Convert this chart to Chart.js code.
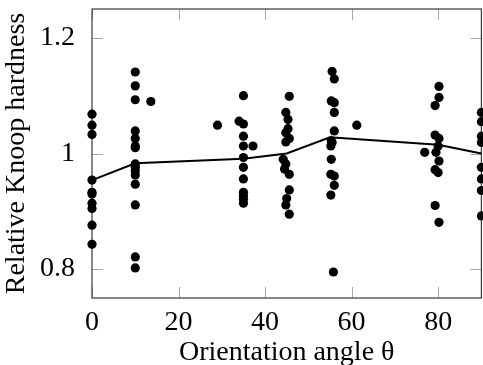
<!DOCTYPE html>
<html>
<head>
<meta charset="utf-8">
<script src="https://cdn.jsdelivr.net/npm/chart.js@4.4.1/dist/chart.umd.min.js"></script>
<style>
    html, body { margin: 0; padding: 0; background: #ffffff; overflow: hidden; }
    #knoopChart { display: block; }
</style>
</head>
<body>
<canvas id="knoopChart" width="486" height="365"></canvas>
<script>
// --- Data ---
// Individual measurements (angle in degrees, relative hardness)
const sampleAngle = [
    0, 0, 0, 0, 0, 0, 0, 0, 0, 0,
    10, 10, 10, 10, 10, 10, 10, 10, 10, 10, 10, 10, 10, 10, 10, 13.6,
    29,
    35, 34, 35, 35, 35, 35, 35, 35, 35, 35, 35, 35, 37.2,
    45.6, 44.8, 45.3, 45.3, 44.8, 45.6, 44.8, 44.2, 44.8, 44.5, 45.6, 45.6, 45, 44.8, 45.6,
    55.5, 56, 55.3, 56, 56, 56, 55.3, 55.5, 55.2, 55.3, 55.2, 56, 56, 55.2, 55.8,
    61.2,
    76.9,
    80.2, 80.2, 79.3, 79.3, 80.2, 80, 79.5, 80.2, 79.3, 80, 79.3, 80.2,
    90, 90, 90, 90, 90, 90, 90, 90
];
const sampleHardness = [
    1.068, 1.049, 1.033, 0.954, 0.933, 0.930, 0.914, 0.905, 0.876, 0.843,
    1.141, 1.117, 1.093, 1.039, 1.026, 1.013, 1.010, 0.982, 0.976, 0.970, 0.963, 0.947, 0.911, 0.821, 0.802, 1.090,
    1.049,
    1.100, 1.056, 1.051, 1.030, 1.013, 0.993, 0.976, 0.956, 0.933, 0.927, 0.921, 0.914, 1.013,
    1.099, 1.071, 1.059, 1.043, 1.036, 1.026, 1.020, 0.990, 0.982, 0.973, 0.964, 0.937, 0.922, 0.911, 0.895,
    1.142, 1.129, 1.091, 1.088, 1.071, 1.039, 1.022, 1.019, 1.013, 0.990, 0.964, 0.961, 0.945, 0.928, 0.795,
    1.049,
    1.002,
    1.116, 1.097, 1.083, 1.032, 1.026, 1.013, 1.002, 0.987, 0.972, 0.967, 0.910, 0.881,
    1.071, 1.055, 1.030, 1.019, 0.976, 0.956, 0.936, 0.892
];

// Mean curve
const meanAngle = [0, 10, 35, 45, 55, 80, 90];
const meanHardness = [0.954, 0.983, 0.991, 1.0, 1.028, 1.015, 1.0];

// Axis ticks
const xTicks = [0, 20, 40, 60, 80];
const yTicks = [0.8, 1, 1.2];

const FONT = "'Liberation Serif', 'Times New Roman', serif";

// --- Plugin: pgfplots-like box with inward ticks ---
const boxTicks = {
    id: 'boxTicks',
    beforeDatasetsDraw(chart) {
        const { ctx, chartArea: a, scales } = chart;
        const len = 11;
        ctx.save();

        // inward tick marks on all four sides
        ctx.strokeStyle = '#a8a8a8';
        ctx.lineWidth = 1;
        ctx.beginPath();
        scales.x.ticks.forEach(t => {
            const px = Math.round(scales.x.getPixelForValue(t.value)) + 0.5;
            ctx.moveTo(px, a.bottom); ctx.lineTo(px, a.bottom - len);
            ctx.moveTo(px, a.top); ctx.lineTo(px, a.top + len);
        });
        scales.y.ticks.forEach(t => {
            const py = Math.round(scales.y.getPixelForValue(t.value)) + 0.5;
            ctx.moveTo(a.left, py); ctx.lineTo(a.left + len, py);
            ctx.moveTo(a.right, py); ctx.lineTo(a.right - len, py);
        });
        ctx.stroke();

        // frame
        ctx.strokeStyle = '#3a3a3a';
        ctx.lineWidth = 1.2;
        ctx.strokeRect(a.left, a.top, a.right - a.left, a.bottom - a.top);
        ctx.restore();
    }
};

function initKnoopChart(canvasId) {
    const ctx = document.getElementById(canvasId)?.getContext('2d');
    if (!ctx) {
        console.warn(`Canvas element with ID '${canvasId}' not found.`);
        return;
    }

    Chart.defaults.font.family = FONT;
    Chart.defaults.font.size = 28;
    Chart.defaults.color = '#000000';

    const samplePoints = sampleAngle.map((x, i) => ({ x: x, y: sampleHardness[i] }));
    const meanPoints = meanAngle.map((x, i) => ({ x: x, y: meanHardness[i] }));

    new Chart(ctx, {
        type: 'scatter',
        data: {
            datasets: [
                {
                    label: 'Samples',
                    data: samplePoints,
                    backgroundColor: '#000000',
                    borderColor: '#000000',
                    borderWidth: 0,
                    pointRadius: 4.6,
                    clip: false
                },
                {
                    type: 'line',
                    label: 'Mean',
                    data: meanPoints,
                    borderColor: '#000000',
                    borderWidth: 2,
                    pointRadius: 0,
                    tension: 0,
                    fill: false,
                    clip: false
                }
            ]
        },
        options: {
            responsive: false,
            animation: false,
            layout: { padding: { top: 9, right: 2, bottom: 0, left: 0 } },
            plugins: {
                legend: { display: false },
                tooltip: { enabled: false }
            },
            scales: {
                x: {
                    type: 'linear',
                    min: 0,
                    max: 90,
                    afterBuildTicks: s => { s.ticks = xTicks.map(v => ({ value: v })); },
                    afterFit: s => {
                        s.height = 67;
                        s.paddingLeft = 0;
                        s.paddingRight = 0;
                    },
                    grid: { display: false },
                    border: { display: false },
                    ticks: { padding: 0, maxRotation: 0, callback: v => String(v) },
                    title: {
                        display: true,
                        text: 'Orientation angle θ',
                        font: { size: 28, lineHeight: 0.85 },
                        padding: { top: 0, bottom: 0 }
                    }
                },
                y: {
                    type: 'linear',
                    min: 0.75,
                    max: 1.25,
                    afterBuildTicks: s => { s.ticks = yTicks.map(v => ({ value: v })); },
                    afterFit: s => {
                        s.width = 92;
                        s.paddingTop = 0;
                        s.paddingBottom = 0;
                    },
                    grid: { display: false },
                    border: { display: false },
                    ticks: { padding: 9, callback: v => String(+Number(v).toFixed(2)) },
                    title: {
                        display: true,
                        text: 'Relative Knoop hardness',
                        font: { size: 28, lineHeight: 1.2 },
                        padding: { top: 0, bottom: 0 }
                    }
                }
            }
        },
        plugins: [boxTicks]
    });
}

document.addEventListener('DOMContentLoaded', function () {
    initKnoopChart('knoopChart');
});
</script>
</body>
</html>
